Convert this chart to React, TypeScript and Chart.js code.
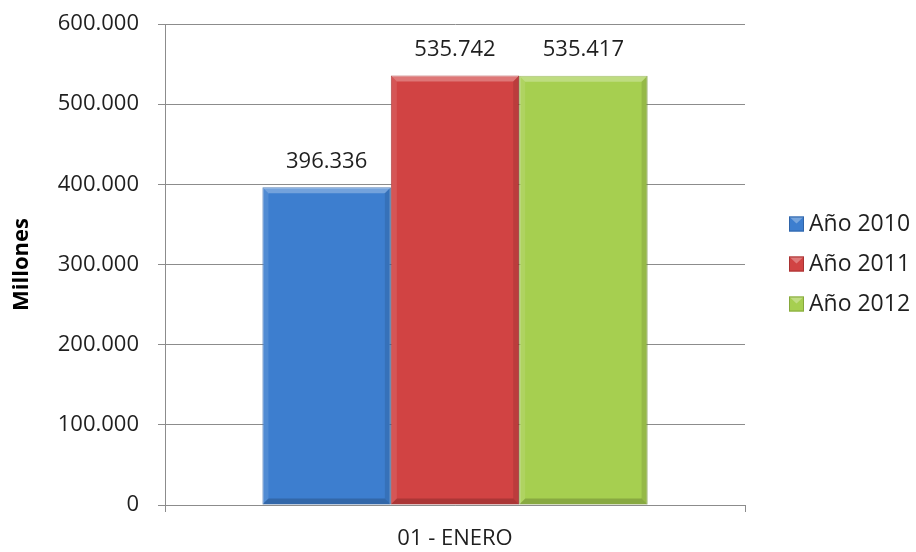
import React, { useEffect, useRef } from "react";
import { Chart, registerables } from "chart.js";

Chart.register(...registerables);

const categories = ["01 - ENERO"];
const seriesNames = ["Año 2010", "Año 2011", "Año 2012"];
const values2010 = [396336];
const values2011 = [535742];
const values2012 = [535417];
const seriesColors = ["#3d7ecf", "#d14343", "#a6cf50"];
const seriesBorders = ["#2f64a8", "#a83232", "#86a83c"];
const yTickMax = 600000;
const yTickStep = 100000;
const yTitle = "Millones";

const FONT = "'Open Sans', 'Noto Sans', sans-serif";

const fmt = (v: number) =>
  Math.round(v)
    .toString()
    .replace(/\B(?=(\d{3})+(?!\d))/g, ".");

const bevel = {
  id: "bevel",
  afterDatasetsDraw(chart: any) {
    const ctx = chart.ctx;
    const b = 6;
    ctx.save();
    chart.data.datasets.forEach((_ds: any, i: number) => {
      const meta = chart.getDatasetMeta(i);
      meta.data.forEach((bar: any) => {
        const l = bar.x - bar.width / 2;
        const r = bar.x + bar.width / 2;
        const t = bar.y;
        const bt = bar.base;
        // top highlight
        ctx.fillStyle = "rgba(255,255,255,0.28)";
        ctx.beginPath();
        ctx.moveTo(l, t);
        ctx.lineTo(r, t);
        ctx.lineTo(r - b, t + b);
        ctx.lineTo(l + b, t + b);
        ctx.closePath();
        ctx.fill();
        // left highlight
        ctx.fillStyle = "rgba(255,255,255,0.1)";
        ctx.beginPath();
        ctx.moveTo(l, t);
        ctx.lineTo(l + b, t + b);
        ctx.lineTo(l + b, bt - b);
        ctx.lineTo(l, bt);
        ctx.closePath();
        ctx.fill();
        // right shade
        ctx.fillStyle = "rgba(0,0,0,0.1)";
        ctx.beginPath();
        ctx.moveTo(r, t);
        ctx.lineTo(r - b, t + b);
        ctx.lineTo(r - b, bt - b);
        ctx.lineTo(r, bt);
        ctx.closePath();
        ctx.fill();
        // bottom shade
        ctx.fillStyle = "rgba(0,0,0,0.18)";
        ctx.beginPath();
        ctx.moveTo(l, bt);
        ctx.lineTo(l + b, bt - b);
        ctx.lineTo(r - b, bt - b);
        ctx.lineTo(r, bt);
        ctx.closePath();
        ctx.fill();
      });
    });
    ctx.restore();
  },
};

const valueLabels = {
  id: "valueLabels",
  afterDatasetsDraw(chart: any) {
    const ctx = chart.ctx;
    ctx.save();
    ctx.font = `22px ${FONT}`;
    ctx.fillStyle = "#1f1f1f";
    ctx.textAlign = "center";
    ctx.textBaseline = "middle";
    chart.data.datasets.forEach((ds: any, i: number) => {
      const meta = chart.getDatasetMeta(i);
      meta.data.forEach((bar: any, j: number) => {
        ctx.fillText(fmt(ds.data[j]), bar.x, bar.y - 26);
      });
    });
    ctx.restore();
  },
};

const customLegend = {
  id: "customLegend",
  afterDraw(chart: any) {
    const ctx = chart.ctx;
    const area = chart.chartArea;
    const n = chart.data.datasets.length;
    const gap = 40;
    const cy = (area.top + area.bottom) / 2;
    const x0 = area.right + 44;
    ctx.save();
    ctx.font = `23px ${FONT}`;
    ctx.textBaseline = "middle";
    ctx.textAlign = "left";
    chart.data.datasets.forEach((ds: any, i: number) => {
      const y = cy + (i - (n - 1) / 2) * gap;
      ctx.fillStyle = ds.backgroundColor;
      ctx.fillRect(x0, y - 8, 15, 15);
      ctx.fillStyle = "rgba(255,255,255,0.3)";
      ctx.beginPath();
      ctx.moveTo(x0, y - 8);
      ctx.lineTo(x0 + 15, y - 8);
      ctx.lineTo(x0 + 7.5, y - 1);
      ctx.closePath();
      ctx.fill();
      ctx.strokeStyle = ds.borderColor;
      ctx.lineWidth = 1;
      ctx.strokeRect(x0 + 0.5, y - 7.5, 14, 14);
      ctx.fillStyle = "#1f1f1f";
      ctx.fillText(ds.label, x0 + 20, y);
    });
    ctx.restore();
  },
};

export default function App() {
  const ref = useRef<HTMLCanvasElement>(null);
  useEffect(() => {
    if (!ref.current) return;
    const data = [values2010, values2011, values2012];
    const chart = new Chart(ref.current, {
      type: "bar",
      data: {
        labels: categories,
        datasets: seriesNames.map((name, i) => ({
          label: name,
          data: data[i],
          backgroundColor: seriesColors[i],
          borderColor: seriesBorders[i],
          borderWidth: 1,
          barPercentage: 1,
          categoryPercentage: 0.664,
        })),
      },
      options: {
        responsive: false,
        animation: false,
        layout: { padding: { top: 24, right: 171, left: 0, bottom: 0 } },
        plugins: {
          legend: { display: false },
          tooltip: { enabled: false },
        },
        scales: {
          x: {
            grid: {
              drawOnChartArea: false,
              drawTicks: true,
              tickLength: 7,
              color: "#8c8c8c",
            },
            border: { display: true, color: "#8c8c8c" },
            ticks: {
              color: "#1f1f1f",
              font: { family: FONT, size: 22 },
              padding: 14,
            },
            afterFit: (s: any) => {
              s.height = 47;
              s.paddingLeft = 0;
              s.paddingRight = 0;
            },
          },
          y: {
            min: 0,
            max: yTickMax,
            ticks: {
              stepSize: yTickStep,
              color: "#1f1f1f",
              font: { family: FONT, size: 22 },
              padding: 19,
              callback: (v: any) => fmt(Number(v)),
            },
            grid: {
              color: "#8c8c8c",
              tickLength: 7,
            },
            border: { display: true, color: "#8c8c8c" },
            title: {
              display: true,
              text: yTitle,
              color: "#000000",
              font: { family: FONT, size: 22, weight: "bold" },
              padding: { top: 9, bottom: 0 },
            },
            afterFit: (s: any) => {
              s.width = 165;
              s.paddingTop = 0;
              s.paddingBottom = 0;
            },
          },
        },
      },
      plugins: [bevel, valueLabels, customLegend],
    });
    return () => chart.destroy();
  }, []);
  return (
    <div style={{ position: "fixed", left: 0, top: 0, width: 916, height: 552, background: "#fff" }}>
      <canvas ref={ref} width={916} height={552} style={{ display: "block" }} />
    </div>
  );
}
